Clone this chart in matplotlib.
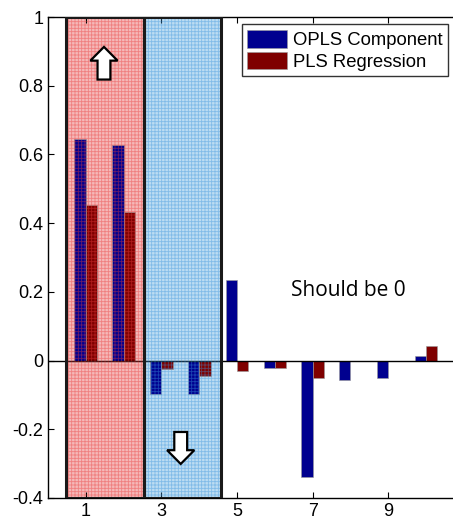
import matplotlib
matplotlib.use("Agg")
import matplotlib.pyplot as plt
from matplotlib.patches import Rectangle, FancyArrow
import numpy as np

# values
components = [1, 2, 3, 4, 5, 6, 7, 8, 9, 10]
opls = [0.644, 0.627, -0.097, -0.097, 0.235, -0.023, -0.340, -0.056, -0.050, 0.013]
pls = [0.453, 0.433, -0.024, -0.044, -0.030, -0.023, -0.050, -0.001, -0.001, 0.043]
yticks = [-0.4, -0.2, 0, 0.2, 0.4, 0.6, 0.8, 1]
ytick_labels = ["-0.4", "-0.2", "0", "0.2", "0.4", "0.6", "0.8", "1"]
xticks = [1, 3, 5, 7, 9, 11]

plt.rcParams['font.family'] = ['Liberation Sans', 'DejaVu Sans']
plt.rcParams['hatch.linewidth'] = 0.6

fig = plt.figure(figsize=(4.53, 5.16), dpi=100)
ax = fig.add_axes([0.106, 0.035, 0.918, 0.932])

x = np.array(components)
w = 0.3
ax.bar(x - w / 2, opls, width=w, color='#00008f', edgecolor='#9a9a9a', linewidth=0.4,
       label='OPLS Component', zorder=2)
ax.bar(x + w / 2, pls, width=w, color='#7f0000', edgecolor='#9a9a9a', linewidth=0.4,
       label='PLS Regression', zorder=2)
ax.axhline(0, color='black', linewidth=1.0, zorder=3)

# shaded regions: solid tint under the bars, fine grid texture over them
for x0, x1, face, hatchc in [(0.47, 2.53, '#f5b8b8', '#e83c3c'),
                             (2.53, 4.57, '#bcdcf2', '#3a94dc')]:
    ax.add_patch(Rectangle((x0, -0.4), x1 - x0, 1.4, facecolor=face, linewidth=0, zorder=1))
    ax.add_patch(Rectangle((x0, -0.4), x1 - x0, 1.4, facecolor='none', edgecolor=hatchc,
                           hatch='+++++', linewidth=0, alpha=0.45, zorder=4))
    ax.add_patch(Rectangle((x0, -0.4), x1 - x0, 1.4, facecolor='none', edgecolor='#1a1a1a',
                           linewidth=2.2, zorder=5))

# hollow arrows
ax.add_patch(FancyArrow(1.48, 0.818, 0, 0.095, width=0.34, head_width=0.72, head_length=0.04,
                        length_includes_head=True, facecolor='white', edgecolor='black',
                        linewidth=1.6, zorder=6))
ax.add_patch(FancyArrow(3.51, -0.208, 0, -0.093, width=0.34, head_width=0.72, head_length=0.04,
                        length_includes_head=True, facecolor='white', edgecolor='black',
                        linewidth=1.6, zorder=6))

ax.text(7.95, 0.205, "Should be 0", ha='center', va='center', fontsize=15,
        family=['Open Sans', 'DejaVu Sans'], zorder=7)

ax.set_xlim(0, 11)
ax.set_ylim(-0.4, 1)
ax.set_yticks(yticks)
ax.set_yticklabels(ytick_labels)
ax.set_xticks(xticks)
ax.tick_params(direction='in', top=True, right=True, labelsize=13, length=4)
for s in ax.spines.values():
    s.set_linewidth(1.0)

leg = ax.legend(loc='upper left', bbox_to_anchor=(0.466, 0.985), borderaxespad=0,
                fontsize=13.3, frameon=True, fancybox=False, edgecolor='black',
                handlelength=2.15, handleheight=1.1, borderpad=0.3, labelspacing=0.15,
                handletextpad=0.3)
leg.get_frame().set_linewidth(1.0)
leg.set_zorder(8)

fig.savefig("out.png", dpi=100)
